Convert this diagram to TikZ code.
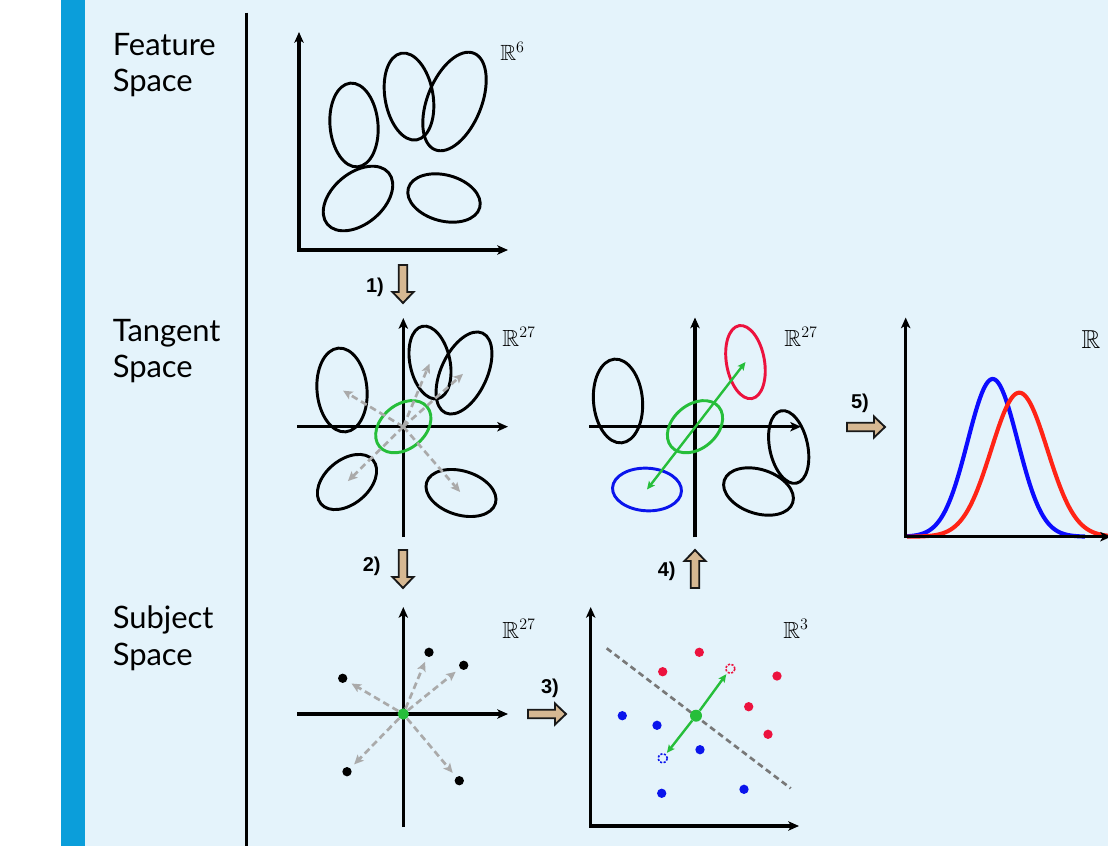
\documentclass[tikz,border=0pt]{standalone}
\usepackage{amssymb}
\usepackage{fontspec}
\newfontfamily\labfont{Lato}
\newfontfamily\stepfont{Liberation Sans}
\usetikzlibrary{arrows.meta}
\definecolor{bgc}{RGB}{228,243,251}
\definecolor{barc}{RGB}{11,158,218}
\definecolor{mygreen}{RGB}{38,190,58}
\definecolor{arrgray}{RGB}{170,170,170}
\definecolor{linegray}{RGB}{120,120,120}
\definecolor{crimson}{RGB}{236,18,62}
\definecolor{myblue}{RGB}{10,20,236}
\definecolor{gred}{RGB}{255,36,22}
\definecolor{gblue}{RGB}{12,12,255}
\definecolor{tanc}{RGB}{214,184,146}
\tikzset{
  pics/bigarrow/.style={code={
    \draw[fill=tanc,draw=black!90,line width=1.4pt,line join=miter]
      (0,-4.2) -- (27,-4.2) -- (27,-10.5) -- (38,0) -- (27,10.5) -- (27,4.2) -- (0,4.2) -- cycle;}},
  axisL/.style={line width=2.5pt,line join=miter,
    {Stealth[length=8pt,width=7pt,inset=2pt]}-{Stealth[length=8pt,width=7pt,inset=2pt]}},
  axisC/.style={line width=2.5pt,-{Stealth[length=8pt,width=7pt,inset=2pt]}},
  ell/.style={line width=2.2pt},
  dasharr/.style={draw=arrgray,line width=2pt,dash pattern=on 5pt off 3pt,
    -{Stealth[length=7pt,width=6.5pt,inset=1.5pt]}},
  greenarr/.style={draw=mygreen,line width=1.8pt,-{Stealth[length=6pt,width=5.5pt,inset=1.2pt]}},
  dot/.style={circle,inner sep=0pt,minimum size=7pt,fill=#1},
  hollow/.style={circle,inner sep=0pt,minimum size=7pt,draw=#1,line width=1.2pt,dash pattern=on 1.6pt off 1.2pt},
  sidelab/.style={font=\labfont\fontsize{23.2}{27.3}\selectfont,align=left,anchor=north west,inner sep=0pt},
  steplab/.style={font=\stepfont\bfseries\fontsize{15}{18}\selectfont,inner sep=0pt},
  spacelab/.style={inner sep=0pt,font=\fontsize{17.5}{20}\selectfont}
}
\begin{document}
\begin{tikzpicture}[x=0.75pt,y=-0.75pt]
\fill[white] (0,0) rectangle (1108,846);
\fill[bgc] (85,0) rectangle (1108,846);
\fill[barc] (61,0) rectangle (85,846);
\useasboundingbox (0,0) rectangle (1108,846);

% divider
\draw[line width=2.4pt] (246.7,12.5) -- (246.7,846);

% side labels
\node[sidelab] (lf) at (112.5,32.6) {Feature\\Space};
\node[sidelab] (lt) at (112.5,318.6) {Tangent\\Space};
\node[sidelab] (ls) at (112.5,605.6) {Subject\\Space};

% ---------- Panel 1: feature space
\coordinate (o1) at (299,250);
\draw[axisL] (299,32) -- (o1) -- (508,250);
\coordinate (e11) at (354,125);
\coordinate (e12) at (409,96.5);
\coordinate (e13) at (454.5,101.5);
\coordinate (e14) at (358,198.5);
\coordinate (e15) at (444,198);
\draw[ell,rotate around={-85:(e11)}] (e11) ellipse [x radius=42,y radius=24];
\draw[ell,rotate around={-80:(e12)}] (e12) ellipse [x radius=44,y radius=24];
\draw[ell,rotate around={68:(e13)}] (e13) ellipse [x radius=52,y radius=27];
\draw[ell,rotate around={40:(e14)}] (e14) ellipse [x radius=40,y radius=25.5];
\draw[ell,rotate around={-15:(e15)}] (e15) ellipse [x radius=37,y radius=23];
\node[spacelab,font=\fontsize{16.5}{18}\selectfont] (r1) at (512.5,51.5) {$\mathbb{R}^6$};

% step 1
\pic[rotate=-90] at (403,265) {bigarrow};
\node[steplab] (s1) at (375,287) {1)};

% ---------- Panel 2: tangent space (left)
\coordinate (o2) at (403.3,426.7);
\draw[axisC] (297,426.7) -- (508,426.7);
\draw[axisC] (403.3,537) -- (403.3,318);
\coordinate (e21) at (342,390);
\coordinate (e22) at (430,362.5);
\coordinate (e23) at (464,373);
\coordinate (e24) at (347,482);
\coordinate (e25) at (461,493);
\draw[ell,rotate around={-85:(e21)}] (e21) ellipse [x radius=42,y radius=25];
\draw[ell,rotate around={-78:(e22)}] (e22) ellipse [x radius=37,y radius=20];
\draw[ell,rotate around={65:(e23)}] (e23) ellipse [x radius=44,y radius=23];
\draw[ell,rotate around={40:(e24)}] (e24) ellipse [x radius=34,y radius=22];
\draw[ell,rotate around={-17:(e25)}] (e25) ellipse [x radius=36,y radius=22];
\draw[ell,draw=mygreen,rotate around={40:(o2)}] (o2) ellipse [x radius=31,y radius=22];
\foreach \t in {e21,e22,e23,e24,e25}
  \draw[dasharr,shorten >=1pt] (o2) -- (\t);
\node[spacelab] (r2) at (519,337) {$\mathbb{R}^{27}$};

% step 2
\pic[rotate=-90] at (403,550) {bigarrow};
\node[steplab] (s2) at (371.7,566) {2)};

% ---------- Panel 3: subject space (left)
\draw[axisC] (297,714) -- (508,714);
\draw[axisC] (403.3,827) -- (403.3,607);
\node[dot=black] (d1) at (342.7,678.3) {};
\node[dot=black] (d2) at (429,652.3) {};
\node[dot=black] (d3) at (463.7,665.3) {};
\node[dot=black] (d4) at (347,771.7) {};
\node[dot=black] (d5) at (459.3,780.7) {};
\node[dot=mygreen,minimum size=8.5pt] (g3) at (403.3,714) {};
\foreach \t in {d1,d2,d3,d4,d5}
  \draw[dasharr,shorten >=4pt] (g3) -- (\t);
\node[spacelab] (r3) at (519,629) {$\mathbb{R}^{27}$};

% step 3
\pic at (528,714) {bigarrow};
\node[steplab] (s3) at (550,688) {3)};

% ---------- Panel 4: subject space (right)
\coordinate (o4) at (590.7,826);
\draw[axisL] (590.7,607) -- (o4) -- (799,826);
\coordinate (b1) at (606.7,648.3);
\coordinate (b2) at (790.7,788.3);
\draw[linegray,line width=2pt,dash pattern=on 4.5pt off 3pt] (b1) -- (b2);
\node[dot=crimson] (rd1) at (699.3,652.3) {};
\node[dot=crimson] (rd2) at (662.7,671.7) {};
\node[dot=crimson] (rd3) at (777,676) {};
\node[dot=crimson] (rd4) at (748.7,706.7) {};
\node[dot=crimson] (rd5) at (768,734.3) {};
\node[dot=myblue] (bd1) at (622.3,715.7) {};
\node[dot=myblue] (bd2) at (657,725.3) {};
\node[dot=myblue] (bd3) at (700,749.7) {};
\node[dot=myblue] (bd4) at (661.7,793.3) {};
\node[dot=myblue] (bd5) at (744,789.3) {};
\node[hollow=crimson] (rh) at (730.3,668.7) {};
\node[hollow=myblue] (bh) at (662.7,758.3) {};
\node[dot=mygreen,minimum size=9pt] (g4) at (696,715.7) {};
\draw[greenarr,shorten >=1pt] (g4) -- (rh);
\draw[greenarr,shorten >=1pt] (g4) -- (bh);
\node[spacelab] (r4) at (796,629) {$\mathbb{R}^{3}$};

% step 4
\pic[rotate=90] at (695,588) {bigarrow};
\node[steplab] (s4) at (666.7,571.7) {4)};

% ---------- Panel 5: tangent space (right)
\coordinate (o5) at (695,426.7);
\draw[axisC] (589.3,426.7) -- (801,426.7);
\draw[axisC] (695,537.3) -- (695,317.5);
\coordinate (e51) at (618,401);
\coordinate (e52) at (745.5,362);
\coordinate (e54) at (647,489.5);
\coordinate (e55) at (788.7,447);
\coordinate (e56) at (758.5,491.5);
\draw[ell,rotate around={-85:(e51)}] (e51) ellipse [x radius=42,y radius=24.5];
\draw[ell,draw=crimson,rotate around={-80:(e52)}] (e52) ellipse [x radius=37,y radius=19];
\draw[ell,draw=mygreen,rotate around={40:(o5)}] (o5) ellipse [x radius=31,y radius=22];
\draw[ell,draw=myblue,rotate around={-3:(e54)}] (e54) ellipse [x radius=34.5,y radius=21.3];
\draw[ell,rotate around={-78:(e55)}] (e55) ellipse [x radius=37,y radius=19];
\draw[ell,rotate around={-18:(e56)}] (e56) ellipse [x radius=36,y radius=22];
\draw[greenarr,{Stealth[length=6pt,width=5.5pt,inset=1.2pt]}-{Stealth[length=6pt,width=5.5pt,inset=1.2pt]}] (e54) -- (e52);
\node[spacelab] (r5) at (801,337) {$\mathbb{R}^{27}$};

% step 5
\pic at (847,427) {bigarrow};
\node[steplab] (s5) at (860,403) {5)};

% ---------- Panel 6: densities
\coordinate (o6) at (905.7,536.7);
\draw[gblue,line width=3.1pt] plot[domain=907:1085,samples=120,smooth]
  (\x,{536.7-157.7*exp(-((\x-992.7)^2)/1250)});
\draw[gred,line width=3.1pt] plot[domain=907:1110,samples=120,smooth]
  (\x,{536.7-144*exp(-((\x-1019.3)^2)/1568)});
\draw[axisL] (905.7,317.5) -- (o6) -- (1111,536.7);
\node[spacelab,font=\fontsize{19.5}{22}\selectfont] (r6) at (1091,340) {$\mathbb{R}$};
\end{tikzpicture}
\end{document}
